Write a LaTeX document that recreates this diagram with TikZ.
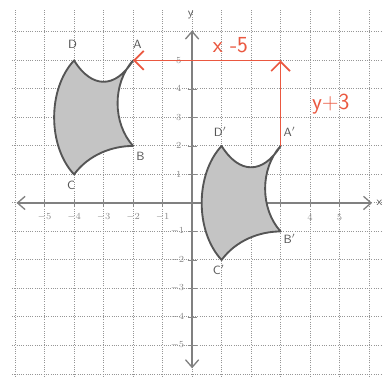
\documentclass[tikz,border=0pt]{standalone}
\usepackage{xcolor}
\definecolor{gridgray}{RGB}{150,150,150}
\definecolor{pencil}{RGB}{85,85,85}
\definecolor{shapefill}{RGB}{196,196,196}
\definecolor{penred}{RGB}{234,88,64}
\usetikzlibrary{arrows.meta}

\tikzset{
  gridline/.style={gridgray, densely dotted, line width=0.7pt},
  axisline/.style={pencil!75, line width=1pt,
    {Straight Barb[length=2mm,width=3.5mm]}-{Straight Barb[length=2mm,width=3.5mm]}},
  tickmark/.style={pencil!70, line width=0.6pt},
  ticklabel/.style={font=\scriptsize\sffamily, pencil!70},
  ptlabel/.style={font=\small\sffamily, pencil},
  figshape/.style={draw=pencil, line width=1.4pt, fill=shapefill, line join=round},
  redpen/.style={penred, line width=1.3pt, -{Straight Barb[length=2.5mm,width=5mm]}},
  redlabel/.style={font=\LARGE\sffamily, penred},
}

\begin{document}
\begin{tikzpicture}[x=0.78cm, y=0.7535cm]

\useasboundingbox (-6.51,-6.18) rectangle (6.47,7.12);

% --- Grid ---
\foreach \gx in {-6,...,6}
  \draw[gridline] (\gx,-6.1) -- (\gx,6.8);
\foreach \gy in {-6,...,6}
  \draw[gridline] (-6.1,\gy) -- (6.5,\gy);

% --- Axes ---
\draw[axisline] (-5.95,0) -- (6.1,0);
\draw[axisline] (0,-5.8) -- (0,6.05);
\node[ptlabel] (xlab) at (6.35,0) {x};
\node[ptlabel] (ylab) at (-0.05,6.6) {y};

% Tick crosses
\foreach \t in {-5,...,-1,1,2,3,4,5} {
  \draw[tickmark] (\t,-0.15) -- (\t,0.15);
  \draw[tickmark] (-0.15,\t) -- (0.15,\t);
}

% Tick numbers
\foreach \t in {-5,...,-1}
  \node[ticklabel] at (\t,-0.5) {$\t$};
\foreach \t in {4,5}
  \node[ticklabel] at (\t,-0.5) {$\t$};
\foreach \t in {1,...,5}
  \node[ticklabel] at (-0.45,\t) {$\t$};
\foreach \t in {-5,...,-1}
  \node[ticklabel] at (-0.5,\t) {$\t$};

% --- Original figure ---
\coordinate (D) at (1,2);
\coordinate (A) at (3,2);
\coordinate (B) at (3,-1);
\coordinate (C) at (1,-2);
\draw[figshape] (D) .. controls (1.6,1.0) and (2.4,1.0) .. (A)
  .. controls (2.3,1.2) and (2.3,-0.2) .. (B)
  .. controls (2.3,-1.0) and (1.5,-1.3) .. (C)
  .. controls (0.1,-1) and (0.1,1) .. cycle;
\node[ptlabel] (Dlab) at (0.95,2.5) {D$'$};
\node[ptlabel] (Alab) at (3.3,2.5) {A$'$};
\node[ptlabel] (Blab) at (3.3,-1.25) {B$'$};
\node[ptlabel] (Clab) at (0.9,-2.35) {C$'$};

% --- Translated figure ---
\coordinate (Di) at (-4,5);
\coordinate (Ai) at (-2,5);
\coordinate (Bi) at (-2,2);
\coordinate (Ci) at (-4,1);
\draw[figshape] (Di) .. controls (-3.4,4.0) and (-2.6,4.0) .. (Ai)
  .. controls (-2.7,4.2) and (-2.7,2.8) .. (Bi)
  .. controls (-2.7,2.0) and (-3.5,1.7) .. (Ci)
  .. controls (-4.9,2) and (-4.9,4) .. cycle;
\node[ptlabel] (Dilab) at (-4.05,5.55) {D};
\node[ptlabel] (Ailab) at (-1.85,5.55) {A};
\node[ptlabel] (Bilab) at (-1.75,1.65) {B};
\node[ptlabel] (Cilab) at (-4.1,0.6) {C};

% --- Translation arrows ---
\coordinate (turn) at (3,5);
\draw[redpen] (A) -- (turn);
\draw[redpen] (turn) -- (Ai);
\node[redlabel] (xrule) at (1.3,5.55) {x -5};
\node[redlabel] (yrule) at (4.7,3.45) {y+3};

\end{tikzpicture}
\end{document}
